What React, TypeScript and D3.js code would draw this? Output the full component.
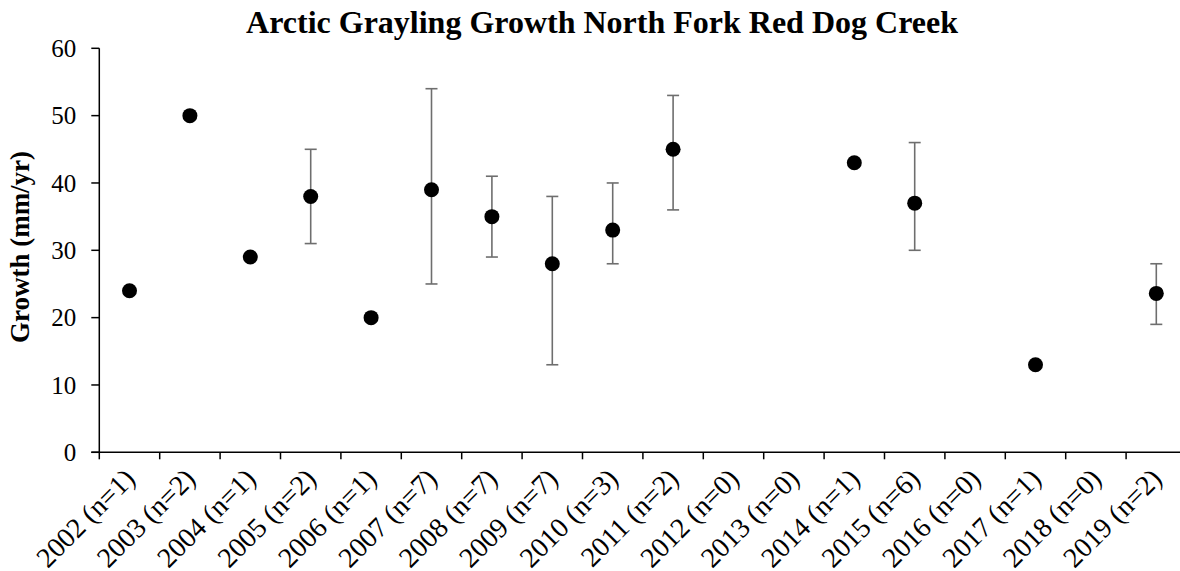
import React from "react";
import * as d3 from "d3";

const years = ["2002","2003","2004","2005","2006","2007","2008","2009","2010","2011","2012","2013","2014","2015","2016","2017","2018","2019"];
const counts = [1,2,1,2,1,7,7,7,3,2,0,0,1,6,0,1,0,2];
const growth: (number | null)[] = [24,50,29,38,20,39,35,28,33,45,null,null,43,37,null,13,null,23.6];
const errLow: (number | null)[] = [null,null,null,31,null,25,29,13,28,36,null,null,null,30,null,null,null,19];
const errHigh: (number | null)[] = [null,null,null,45,null,54,41,38,40,53,null,null,null,46,null,null,null,28];
const yTicks = [0,10,20,30,40,50,60];

const W = 1180, H = 571;
const left = 99.3, top = 48.3, bottom = 452.3, band = 60.4;

export default function App() {
  const labels = years.map((y, i) => `${y} (n=${counts[i]})`);
  const x = d3.scaleBand<string>().domain(labels).range([left, left + band * labels.length]).padding(0);
  const y = d3.scaleLinear().domain([0, 60]).range([bottom, top]);
  const font = "'Liberation Serif', 'Times New Roman', serif";
  const cx = (i: number) => (x(labels[i]) as number) + x.bandwidth() / 2;
  return (
    <svg width={W} height={H} style={{ position: "absolute", left: 0, top: 0, background: "#fff" }} fontFamily={font}>
      <text x={602} y={32.5} textAnchor="middle" fontWeight="bold" fontSize={32}>Arctic Grayling Growth North Fork Red Dog Creek</text>
      <text transform={`translate(28.5,247) rotate(-90)`} textAnchor="middle" fontWeight="bold" fontSize={27}>Growth (mm/yr)</text>
      {/* y axis */}
      <line x1={left} x2={left} y1={top} y2={bottom} stroke="#000" strokeWidth={1.5} />
      {yTicks.map(t => (
        <g key={t}>
          <line x1={left - 8} x2={left} y1={y(t)} y2={y(t)} stroke="#000" strokeWidth={1.5} />
          <text x={left - 23} y={y(t)} dy="0.35em" textAnchor="end" fontSize={25}>{t}</text>
        </g>
      ))}
      {/* x axis */}
      <line x1={left - 8} x2={W} y1={bottom} y2={bottom} stroke="#000" strokeWidth={1.5} />
      {labels.map((l, i) => (
        <g key={l}>
          <line x1={x(l) as number} x2={x(l) as number} y1={bottom} y2={bottom + 7} stroke="#000" strokeWidth={1.5} />
          <text transform={`translate(${cx(i) + 7},${bottom + 28}) rotate(-45)`} textAnchor="end" fontSize={28}>{l}</text>
        </g>
      ))}
      {/* error bars */}
      {labels.map((l, i) => {
        const lo = errLow[i], hi = errHigh[i];
        if (lo == null || hi == null) return null;
        const c = cx(i);
        return (
          <g key={"e" + l} stroke="#6e6e6e" strokeWidth={1.6}>
            <line x1={c} x2={c} y1={y(lo)} y2={y(hi)} />
            <line x1={c - 6} x2={c + 6} y1={y(lo)} y2={y(lo)} />
            <line x1={c - 6} x2={c + 6} y1={y(hi)} y2={y(hi)} />
          </g>
        );
      })}
      {labels.map((l, i) => growth[i] == null ? null : (
        <circle key={"p" + l} cx={cx(i)} cy={y(growth[i] as number)} r={7.5} fill="#000" />
      ))}
    </svg>
  );
}
